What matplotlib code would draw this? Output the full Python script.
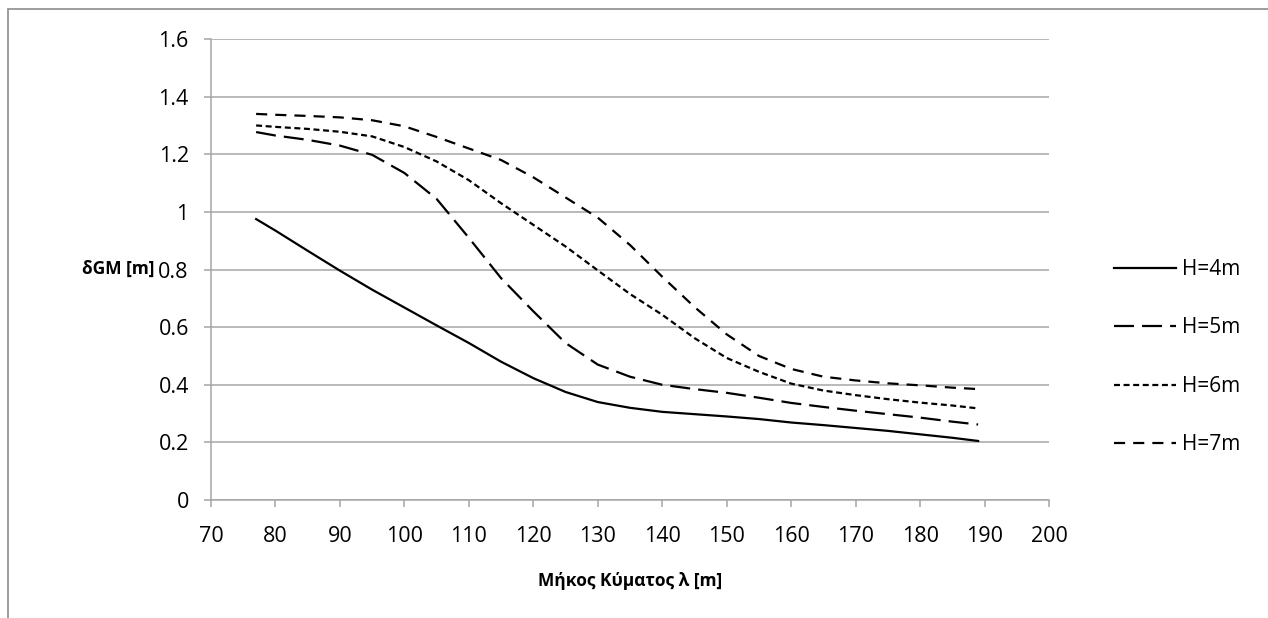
import matplotlib
matplotlib.use("Agg")
import matplotlib.pyplot as plt
from matplotlib.patches import Rectangle

plt.rcParams['font.family'] = ['Open Sans', 'DejaVu Sans']
plt.rcParams['lines.scale_dashes'] = False

wavelength = [77, 80, 85, 90, 95, 100, 105, 110, 115, 120, 125, 130, 135, 140,
              145, 150, 155, 160, 165, 170, 175, 180, 185, 189]
dgm_h4 = [0.975, 0.935, 0.865, 0.796, 0.73, 0.668, 0.606, 0.545, 0.48, 0.423, 0.375, 0.34,
          0.32, 0.306, 0.298, 0.29, 0.281, 0.269, 0.26, 0.25, 0.24, 0.228, 0.216, 0.205]
dgm_h5 = [1.277, 1.265, 1.25, 1.23, 1.198, 1.135, 1.045, 0.91, 0.77, 0.655, 0.545, 0.47,
          0.428, 0.40, 0.385, 0.372, 0.355, 0.337, 0.323, 0.31, 0.298, 0.286, 0.272, 0.262]
dgm_h6 = [1.30, 1.295, 1.288, 1.278, 1.262, 1.225, 1.175, 1.11, 1.03, 0.955, 0.88, 0.797,
          0.715, 0.643, 0.562, 0.493, 0.445, 0.404, 0.38, 0.364, 0.35, 0.338, 0.328, 0.318]
dgm_h7 = [1.34, 1.337, 1.333, 1.328, 1.318, 1.297, 1.26, 1.22, 1.18, 1.12, 1.05, 0.98,
          0.885, 0.775, 0.67, 0.575, 0.50, 0.455, 0.428, 0.415, 0.405, 0.398, 0.39, 0.385]

labels = ['H=4m', 'H=5m', 'H=6m', 'H=7m']
dashes = ['-', (0, (14.4, 5.8)), (0, (4.3, 2.6)), (0, (8, 5.8))]

fig = plt.figure(figsize=(12.68, 6.18), dpi=100)
ax = fig.add_axes([0.1664, 0.1909, 0.6609, 0.746])

for ys, lab, ls in zip([dgm_h4, dgm_h5, dgm_h6, dgm_h7], labels, dashes):
    ax.plot(wavelength, ys, color='black', linestyle=ls, linewidth=1.6, label=lab)

grid_c = '#a6a6a6'
ax.set_xlim(70, 200)
ax.set_ylim(0, 1.6)
ax.set_xticks(range(70, 201, 10))
ax.set_yticks([0, 0.2, 0.4, 0.6, 0.8, 1, 1.2, 1.4, 1.6])
ax.set_yticklabels(['0', '0.2', '0.4', '0.6', '0.8', '1', '1.2', '1.4', '1.6'])
ax.yaxis.grid(True, color=grid_c, linewidth=1.1)
ax.set_axisbelow(True)
for s in ['top', 'right']:
    ax.spines[s].set_visible(False)
for s in ['left', 'bottom']:
    ax.spines[s].set_color(grid_c)
    ax.spines[s].set_linewidth(1.1)
ax.tick_params(axis='both', colors=grid_c, labelcolor='black', labelsize=15.5,
               length=5, width=1.1, direction='out')
ax.tick_params(axis='y', pad=11)
ax.tick_params(axis='x', pad=14)

ax.set_xlabel('Μήκος Κύματος λ [m]', fontsize=12.5, fontweight='bold')
ax.xaxis.set_label_coords(0.5, -0.176)
ax.xaxis.label.set_va('center')
fig.text(0.093, 0.565, 'δGM [m]', fontsize=12.5, fontweight='bold', ha='center', va='center')

leg = ax.legend(loc='center left', bbox_to_anchor=(1.055, 0.31), frameon=False,
                fontsize=15, handlelength=3.0, labelspacing=1.8, handletextpad=0.25)

fig.add_artist(Rectangle((8 / 1268, -0.2), 1.2, 1.2 - 9 / 618, transform=fig.transFigure,
                         fill=False, edgecolor='#8c8c8c', linewidth=1.2))

fig.savefig('out.png', dpi=100)
